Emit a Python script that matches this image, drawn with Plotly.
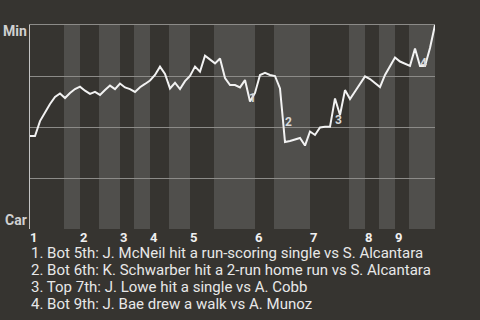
import plotly.graph_objects as go

# Win probability (0 = Car, 100 = Min) after each play
win_prob = [45.6, 45.6, 52.9, 57.4, 61.3, 64.7, 66.4, 64.2, 66.7, 68.6,
            69.8, 67.8, 66.2, 67.2, 65.7, 68.1, 70.3, 68.6, 71.3, 69.4,
            68.6, 67.2, 69.5, 71.1, 72.8, 75.5, 79.6, 76.0, 68.9, 71.7,
            68.6, 72.5, 75.0, 79.6, 77.1, 85.0, 83.1, 81.2, 83.6, 74.0,
            70.6, 70.6, 69.4, 73.0, 62.5, 66.7, 75.5, 76.5, 75.5, 75.0,
            68.9, 42.6, 43.1, 43.9, 44.6, 40.9, 47.8, 46.1, 49.8, 50.1,
            50.1, 64.0, 55.9, 68.1, 63.7, 67.4, 71.1, 74.8, 73.5, 71.6,
            69.6, 75.5, 79.9, 84.1, 82.1, 81.1, 80.0, 88.5, 79.9, 79.9,
            88.7, 100.0]
plays = list(range(len(win_prob)))

innings = ["1", "2", "3", "4", "5", "6", "7", "8", "9"]
inning_starts = [0, 10, 18, 24, 32, 45, 56, 67, 73]
bottom_starts = [6.8, 13.8, 20.8, 27.8, 36.8, 48.8, 63.8, 69.8, 75.8]
game_end = 81

team_top = "Min"
team_bottom = "Car"

event_labels = ["1", "2", "3", "4"]
event_x = [44.5, 51.6, 61.6, 78.6]
event_y = [64.0, 52.5, 53.5, 81.5]
event_texts = [
    "1. Bot 5th: J. McNeil hit a run-scoring single vs S. Alcantara",
    "2. Bot 6th: K. Schwarber hit a 2-run home run vs S. Alcantara",
    "3. Top 7th: J. Lowe hit a single vs A. Cobb",
    "4. Bot 9th: J. Bae drew a walk vs A. Munoz",
]

DARK = "#363430"
LIGHT = "#504f4c"
GRID = "#8c8b88"
FONT = "Roboto"

fig = go.Figure()

# bottom-half inning bands
ends = inning_starts[1:] + [game_end]
shapes = []
for b0, b1 in zip(bottom_starts, ends):
    shapes.append(dict(type="rect", xref="x", yref="paper", x0=b0, x1=b1,
                       y0=0, y1=1, fillcolor=LIGHT, line=dict(width=0),
                       layer="below"))

fig.add_trace(go.Scatter(x=plays, y=win_prob, mode="lines",
                         line=dict(color="#f2f2f2", width=2),
                         hoverinfo="skip", showlegend=False))

annotations = []
for lab, x0 in zip(innings, inning_starts):
    annotations.append(dict(x=x0, y=0, xref="x", yref="paper", text="<b>%s</b>" % lab,
                            showarrow=False, xanchor="left", yanchor="middle",
                            xshift=-1, yshift=-8, borderpad=0,
                            font=dict(family=FONT, size=13, color="#f0f0f0")))
for lab, ex, ey in zip(event_labels, event_x, event_y):
    annotations.append(dict(x=ex, y=ey, xref="x", yref="y", text="<b>%s</b>" % lab,
                            showarrow=False, borderpad=0,
                            font=dict(family=FONT, size=12, color="#d8d8d8")))
annotations.append(dict(x=0, y=1, xref="paper", yref="paper", text="<b>%s</b>" % team_top,
                        showarrow=False, xanchor="right", yanchor="middle",
                        xshift=-2, yshift=-6, borderpad=0,
                        font=dict(family=FONT, size=14, color="#d0d0d0")))
annotations.append(dict(x=0, y=0, xref="paper", yref="paper", text="<b>%s</b>" % team_bottom,
                        showarrow=False, xanchor="right", yanchor="middle",
                        xshift=-2, yshift=9, borderpad=0,
                        font=dict(family=FONT, size=14, color="#d0d0d0")))
for k, txt in enumerate(event_texts):
    annotations.append(dict(x=0, y=0, xref="paper", yref="paper",
                            text=txt, align="left", borderpad=0,
                            showarrow=False, xanchor="left", yanchor="middle",
                            xshift=0, yshift=-(24 + 17 * k),
                            font=dict(family=FONT, size=15, color="#e8e8e8")))

fig.update_layout(
    width=480, height=320,
    margin=dict(l=30, r=45, t=25, b=91),
    paper_bgcolor=DARK, plot_bgcolor=DARK,
    shapes=shapes, annotations=annotations,
    xaxis=dict(range=[0, game_end], showgrid=False, zeroline=False,
               showticklabels=False, ticks="", side="top",
               showline=True, linecolor=GRID, linewidth=1, fixedrange=True),
    yaxis=dict(range=[0, 100], tickvals=[25, 50, 75], showgrid=True,
               gridcolor=GRID, gridwidth=1, zeroline=False,
               showticklabels=False, ticks="", showline=True,
               linecolor="#c4c4c4", linewidth=1, fixedrange=True),
    showlegend=False,
)

fig.write_html("out.html", config={"displayModeBar": False})
